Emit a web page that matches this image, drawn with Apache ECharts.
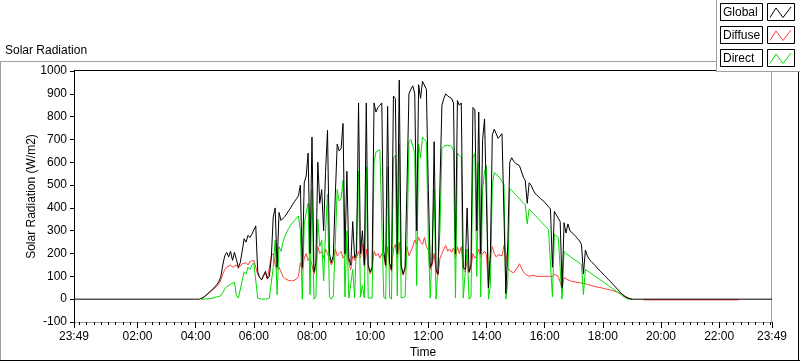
<!DOCTYPE html>
<html><head><meta charset="utf-8">
<script src="https://cdn.jsdelivr.net/npm/echarts@6/dist/echarts.min.js"></script>
<style>html,body{margin:0;padding:0;background:#fff;overflow:hidden}#c{width:800px;height:361px}</style>
</head><body><div id="c"></div>
<script>
// ---------- data ----------
const titleText = 'Solar Radiation';
const yAxisTitle = 'Solar Radiation (W/m2)';
const xAxisTitle = 'Time';
const seriesNames = ['Global', 'Diffuse', 'Direct'];
const xTickLabels = ['23:49','02:00','04:00','06:00','08:00','10:00','12:00','14:00','16:00','18:00','20:00','22:00','23:49'];
const yMin = -100, yMax = 1000, yStep = 100;

// samples every 4 minutes starting at 04:00
const dayStart = '04:00';
const stepMin = 4;

const globalValues = [
  0, 0, 0, 1, 8, 15, 22, 30, 38, 46,
  55, 65, 78, 100, 150, 190, 205, 185, 210, 170,
  205, 175, 140, 160, 210, 265, 250, 280, 270, 285,
  290, 321, 120, 95, 85, 105, 122, 90, 100, 180,
  360, 400, 140, 380, 345, 352, 362, 375, 388, 400,
  415, 428, 440, 453, 500, 140, 510, 540, 640, 200,
  710, 120, 160, 600, 420, 480, 300, 560, 740, 200,
  160, 190, 450, 680, 650, 660, 770, 200, 560, 180,
  150, 340, 180, 200, 860, 200, 300, 150, 860, 150,
  120, 140, 860, 820, 840, 850, 860, 210, 150, 845,
  160, 130, 890, 880, 200, 960, 150, 110, 140, 500,
  900, 920, 935, 900, 300, 940, 880, 955, 960, 920,
  480, 140, 160, 690, 130, 110, 500, 850, 880, 900,
  890, 895, 880, 860, 200, 870, 850, 860, 140, 130,
  400, 120, 150, 840, 830, 300, 820, 200, 700, 790,
  795, 50, 200, 720, 745, 725, 705, 700, 725, 720,
  25, 250, 600, 620, 605, 595, 588, 585, 580, 535,
  520, 420, 510, 500, 480, 465, 455, 450, 440, 432,
  425, 420, 405, 395, 140, 385, 370, 355, 340, 50,
  335, 290, 330, 300, 295, 285, 275, 265, 255, 240,
  110, 215, 190, 175, 165, 157, 148, 138, 130, 120,
  112, 103, 94, 85, 76, 67, 58, 49, 40, 30,
  22, 14, 8, 4, 1, 0, 0, 0, 0
];
const diffuseValues = [
  null, null, null, 1, 7, 14, 20, 28, 35, 42,
  50, 58, 68, 85, 110, 130, 140, 135, 150, 140,
  145, 150, 135, 145, 155, 150, 160, 150, 165, 160,
  170, 165, 110, 95, 85, 100, 115, 88, 95, 190,
  200, 150, 130, 140, 120, 100, 90, 85, 82, 80,
  80, 82, 88, 100, 160, 130, 180, 200, 170, 180,
  150, 110, 140, 230, 200, 210, 180, 220, 200, 175,
  150, 170, 220, 190, 200, 210, 180, 190, 230, 160,
  130, 190, 170, 180, 210, 180, 240, 140, 220, 140,
  110, 130, 210, 190, 200, 180, 200, 190, 140, 230,
  150, 120, 220, 240, 180, 250, 140, 105, 130, 230,
  190, 210, 230, 260, 240, 270, 250, 240, 270, 230,
  215, 130, 150, 200, 120, 105, 180, 200, 220, 235,
  210, 220, 205, 225, 180, 230, 200, 230, 130, 120,
  170, 115, 140, 200, 180, 190, 220, 185, 200, 210,
  195, 50, 190, 230, 200, 185, 195, 200, 190, 235,
  200, 140, 125, 120, 115, 112, 140, 155, 150, 120,
  110, 105, 100, 100, 105, 110, 100, 98, 100, 102,
  100, 105, 100, 95, 100, 110, 105, 100, 95, 50,
  95, 88, 85, 80, 78, 75, 75, 78, 72, 70,
  70, 68, 65, 62, 60, 58, 55, 55, 52, 50,
  48, 46, 44, 42, 40, 38, 35, 33, 30, 27,
  22, 16, 10, 5, 2, 0, null, null, null
];
const directValues = [
  null, null, null, 0, 1, 1, 2, 2, 3, 5,
  8, 10, 12, 15, 30, 45, 55, 50, 65, 60,
  75, 15, 5, 10, 80, 120, 110, 140, 130, 150,
  160, 165, 5, 2, 0, 0, 0, 0, 5, 10,
  140, 260, 20, 230, 210, 250, 275, 295, 310, 325,
  335, 345, 355, 365, 300, 0, 330, 380, 420, 20,
  480, 0, 10, 350, 230, 260, 80, 300, 460, 10,
  0, 15, 240, 480, 430, 440, 520, 10, 300, 5,
  0, 130, 5, 10, 560, 10, 60, 5, 580, 5,
  0, 5, 600, 645, 650, 655, 650, 10, 0, 580,
  10, 0, 620, 630, 15, 680, 5, 0, 10, 240,
  690, 700, 700, 640, 60, 680, 620, 710, 700, 690,
  250, 5, 10, 480, 0, 0, 300, 660, 670, 665,
  675, 680, 670, 650, 5, 640, 630, 620, 5, 0,
  220, 0, 10, 620, 640, 100, 600, 10, 480, 560,
  585, 0, 60, 500, 555, 550, 540, 530, 515, 505,
  0, 80, 485, 476, 467, 458, 449, 440, 431, 422,
  413, 330, 395, 386, 377, 368, 359, 350, 341, 332,
  323, 314, 305, 298, 10, 285, 278, 270, 264, 0,
  210, 200, 195, 188, 180, 175, 170, 165, 160, 150,
  20, 130, 125, 119, 113, 107, 101, 95, 89, 83,
  77, 71, 65, 59, 53, 47, 41, 35, 29, 22,
  15, 9, 4, 1, 0, 0, null, null, null
];
// small night offset of the diffuse sensor
const diffuseNightTimes = ['19:24', '22:40'];
const diffuseNightValues = [-3, -3];

// ---------- helpers ----------
const seriesColors = ['#000000', '#ff3c3c', '#00dc00'];
const FONT = "'Liberation Sans', Arial, sans-serif";
const AXIS_END = 1440; // minutes from 23:49 to 23:49 next day
function clockToX(s) { const p = s.split(':').map(Number); return p[0] * 60 + p[1] + 11; }
const xTickValues = xTickLabels.map((s, i) => i === 0 ? 0 : (i === xTickLabels.length - 1 ? AXIS_END : clockToX(s)));
const labelByValue = {};
xTickValues.forEach((v, i) => { labelByValue[v] = xTickLabels[i]; });
const minorTicks = [];
for (let m = 11; m <= AXIS_END; m += 15) { if (xTickValues.indexOf(m) < 0) minorTicks.push(m); }

const x0 = clockToX(dayStart);
function build(vals) { return vals.map((v, i) => [x0 + i * stepMin, v == null ? '-' : v]); }
const globalData = [[0, 0]].concat(build(globalValues), [[AXIS_END, 0]]);
const diffuseData = build(diffuseValues).concat([[clockToX('19:20'), '-']],
  diffuseNightTimes.map((t, i) => [clockToX(t), diffuseNightValues[i]]));
const directData = build(directValues);

// ---------- layout ----------
const G = { left: 74, top: 71, right: 28, bottom: 39 };
const plotR = 800 - G.right, plotB = 361 - G.bottom;

const graphics = [
  { type: 'line', shape: { x1: 0, y1: 61.5, x2: 716, y2: 61.5 }, style: { stroke: '#a0a0a0', lineWidth: 1 } },
  { type: 'line', shape: { x1: 0.5, y1: 61.5, x2: 0.5, y2: 361 }, style: { stroke: '#a0a0a0', lineWidth: 1 } },
  { type: 'line', shape: { x1: 0, y1: 360.5, x2: 800, y2: 360.5 }, style: { stroke: '#000', lineWidth: 1 } },
  { type: 'line', shape: { x1: 798.5, y1: 72, x2: 798.5, y2: 361 }, style: { stroke: '#000', lineWidth: 1 } },
  { type: 'line', shape: { x1: G.left, y1: G.top - 0.5, x2: plotR, y2: G.top - 0.5 }, style: { stroke: '#000', lineWidth: 1 } },
  { type: 'line', shape: { x1: plotR - 0.5, y1: G.top - 0.5, x2: plotR - 0.5, y2: plotB }, style: { stroke: '#a0a0a0', lineWidth: 1 } },
  { type: 'text', left: 5, top: 45, style: { text: titleText, font: '12px ' + FONT, fill: '#000' } },
  // legend panel
  { type: 'rect', shape: { x: 716.5, y: 0, width: 84, height: 71.5 }, style: { fill: '#fff' }, z: 100 },
  { type: 'line', shape: { x1: 716.5, y1: 0, x2: 716.5, y2: 72 }, style: { stroke: '#a0a0a0', lineWidth: 1 }, z: 101 },
  { type: 'line', shape: { x1: 716.5, y1: 71.5, x2: 800, y2: 71.5 }, style: { stroke: '#a0a0a0', lineWidth: 1 }, z: 101 }
];
seriesNames.forEach((name, k) => {
  const y0 = 3.5 + 23 * k;
  graphics.push({ type: 'rect', shape: { x: 720.5, y: y0, width: 42, height: 17 }, style: { fill: '#fff', stroke: '#000', lineWidth: 1 }, z: 102 });
  graphics.push({ type: 'text', x: 723, y: y0 + 9, style: { text: name, font: '12px ' + FONT, fill: '#000', verticalAlign: 'middle' }, z: 103 });
  graphics.push({ type: 'rect', shape: { x: 767.5, y: y0, width: 27, height: 17 }, style: { fill: '#fff', stroke: '#000', lineWidth: 1 }, z: 102 });
  graphics.push({ type: 'polyline', shape: { points: [[770, y0 + 14], [776, y0 + 4.5], [783, y0 + 14], [791, y0 + 3.5]] }, style: { stroke: seriesColors[k], lineWidth: 1, fill: null }, z: 103 });
});

const chart = echarts.init(document.getElementById('c'), null, { renderer: 'canvas' });
chart.setOption({
  animation: false,
  backgroundColor: '#fff',
  grid: { left: G.left, top: G.top, right: G.right, bottom: G.bottom, show: false, containLabel: false, outerBoundsMode: 'none' },
  xAxis: [{
    type: 'value', min: 0, max: AXIS_END,
    name: xAxisTitle, nameLocation: 'middle', nameGap: 25, nameMoveOverlap: false,
    nameTextStyle: { color: '#000', fontSize: 12, fontFamily: FONT },
    axisLine: { show: true, onZero: false, lineStyle: { color: '#a0a0a0', width: 1 } },
    axisTick: { show: true, customValues: xTickValues, length: 6, lineStyle: { color: '#000' } },
    axisLabel: { show: true, customValues: xTickValues, formatter: v => labelByValue[v] || '', color: '#000', fontSize: 12, fontFamily: FONT, margin: 9 },
    splitLine: { show: false }
  }, {
    type: 'value', min: 0, max: AXIS_END, position: 'bottom', gridIndex: 0,
    axisLine: { show: false, onZero: false },
    axisTick: { show: true, customValues: minorTicks, length: 3, lineStyle: { color: '#000' } },
    axisLabel: { show: false },
    splitLine: { show: false }
  }],
  yAxis: {
    type: 'value', min: yMin, max: yMax, interval: yStep,
    name: yAxisTitle, nameLocation: 'middle', nameGap: 36, nameRotate: 90, nameMoveOverlap: false,
    nameTextStyle: { color: '#000', fontSize: 12, fontFamily: FONT },
    axisLine: { show: true, onZero: false, lineStyle: { color: '#000', width: 1 } },
    axisTick: { show: true, length: 4, lineStyle: { color: '#000' } },
    axisLabel: { color: '#000', fontSize: 12, fontFamily: FONT, margin: 7, formatter: v => String(v) },
    splitLine: { show: false }
  },
  series: [
    { name: seriesNames[0], type: 'line', data: globalData, showSymbol: false, symbol: 'none', z: 3, lineStyle: { color: seriesColors[0], width: 1 }, itemStyle: { color: seriesColors[0] } },
    { name: seriesNames[1], type: 'line', data: diffuseData, showSymbol: false, symbol: 'none', z: 2, lineStyle: { color: seriesColors[1], width: 1 }, itemStyle: { color: seriesColors[1] } },
    { name: seriesNames[2], type: 'line', data: directData, showSymbol: false, symbol: 'none', z: 2, lineStyle: { color: seriesColors[2], width: 1 }, itemStyle: { color: seriesColors[2] } }
  ],
  graphic: graphics
});
</script>
</body></html>
